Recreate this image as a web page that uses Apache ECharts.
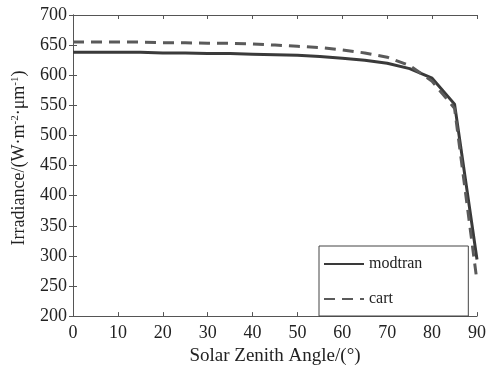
<!DOCTYPE html>
<html><head><meta charset="utf-8">
<script src="https://cdn.jsdelivr.net/npm/echarts@6/dist/echarts.min.js"></script>
<style>html,body{margin:0;padding:0;background:#fff}#c{width:489px;height:371px}</style>
</head><body><div id="c"></div>
<script>
const angles = [0,5,10,15,20,25,30,35,40,45,50,55,60,65,70,75,80,85,90];
const modtran = [638,638,638,638,637,637,636,636,635,634,633,631,628,625,620,611,595,552,294];
const cart = [655,655,655,655,654,654,653,653,652,650,648,646,642,637,630,616,590,545,258];
const xTicks = [0,10,20,30,40,50,60,70,80,90];
const yTicks = [200,250,300,350,400,450,500,550,600,650,700];

const font = 'Liberation Serif';
const axisCol = '#555';
const chart = echarts.init(document.getElementById('c'));
const pair = (xs, ys) => xs.map((x, i) => [x, ys[i]]);
const baseX = {
  type: 'value', min: xTicks[0], max: xTicks[xTicks.length - 1], interval: 10,
  axisLine: {lineStyle: {color: axisCol, width: 1}},
  axisTick: {inside: true, length: 4, lineStyle: {color: axisCol}},
  splitLine: {show: false}
};
const baseY = {
  type: 'value', min: yTicks[0], max: yTicks[yTicks.length - 1], interval: 50,
  axisLine: {lineStyle: {color: axisCol, width: 1}},
  axisTick: {inside: true, length: 4, lineStyle: {color: axisCol}},
  splitLine: {show: false}
};
chart.setOption({
  animation: false,
  grid: {left: 73, right: 11, top: 15, bottom: 46},
  xAxis: [
    Object.assign({}, baseX, {
      position: 'bottom',
      axisLabel: {color: '#222', fontFamily: font, fontSize: 18, margin: 8},
      name: 'Solar Zenith Angle/(°)', nameLocation: 'middle', nameGap: 29,
      nameTextStyle: {color: '#222', fontFamily: font, fontSize: 19}
    }),
    Object.assign({}, baseX, {position: 'top', axisLabel: {show: false}})
  ],
  yAxis: [
    Object.assign({}, baseY, {
      position: 'left',
      axisLabel: {color: '#222', fontFamily: font, fontSize: 18, margin: 6}
    }),
    Object.assign({}, baseY, {position: 'right', axisLabel: {show: false}})
  ],
  graphic: [{
    type: 'text', x: 19, y: 158, rotation: Math.PI / 2,
    style: {
      text: 'Irradiance/(W·m{s|-2}·μm{s|-1})', fill: '#222',
      font: '18px "Liberation Serif"', align: 'center', verticalAlign: 'middle',
      rich: {s: {fontSize: 11, fontFamily: font, fill: '#222', padding: [0, 0, 8, 0]}}
    }
  }],
  legend: {
    orient: 'vertical', left: 319, top: 246,
    backgroundColor: '#fff', borderColor: '#444', borderWidth: 1,
    padding: [10, 46, 9, 4], itemGap: 19, itemWidth: 40, itemHeight: 14,
    itemStyle: {opacity: 0},
    textStyle: {color: '#222', fontFamily: font, fontSize: 16},
    data: ['modtran', 'cart']
  },
  series: [
    {name: 'modtran', type: 'line', data: pair(angles, modtran), symbol: 'none',
      lineStyle: {color: '#3a3a3a', width: 3}, itemStyle: {color: '#3a3a3a'}},
    {name: 'cart', type: 'line', data: pair(angles, cart), symbol: 'none',
      lineStyle: {color: '#5a5a5a', width: 3, type: [11, 7]}, itemStyle: {color: '#5a5a5a'}}
  ]
});
</script></body></html>
